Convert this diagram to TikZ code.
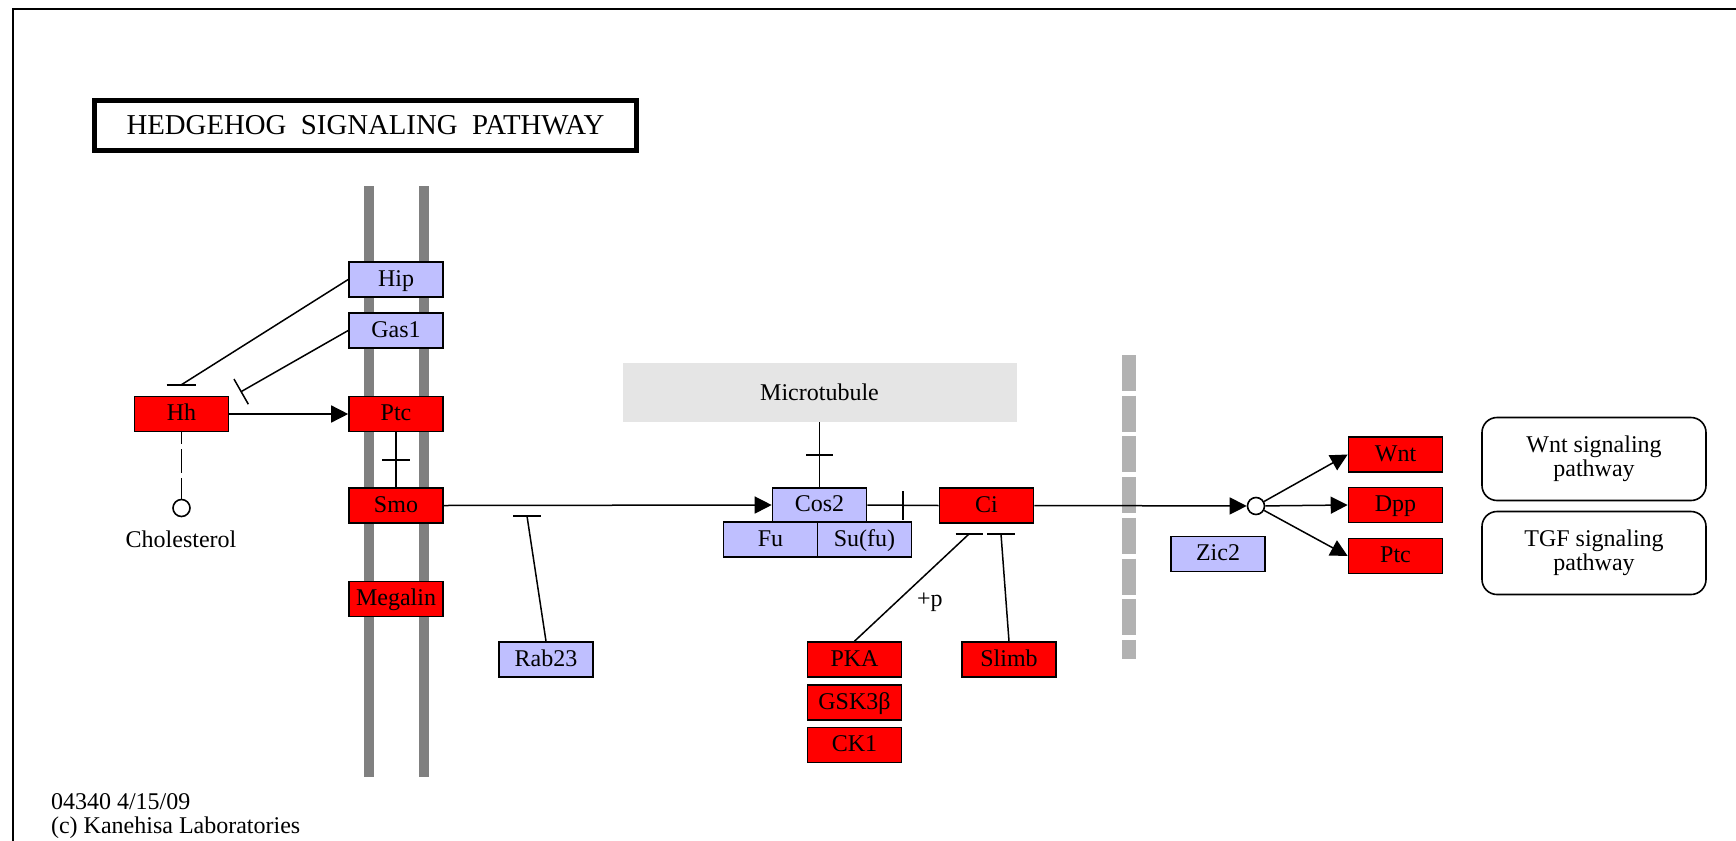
\documentclass[tikz,border=0pt]{standalone}
\usepackage{fontspec}
\setmainfont{Liberation Serif}
\usepackage{tikz}
\usepackage{xcolor}
\usetikzlibrary{arrows.meta}
\definecolor{keggred}{HTML}{FF0000}
\definecolor{keggblue}{HTML}{BFBFFF}
\tikzset{
  gene/.style={draw, line width=0.8pt, minimum width=47pt, minimum height=17.5pt, inner sep=0pt, text height=8.6pt, text depth=1.8pt},
  redgene/.style={gene, fill=keggred},
  bluegene/.style={gene, fill=keggblue},
  pathbox/.style={draw, line width=0.8pt, rounded corners=7.5pt, minimum width=112pt, minimum height=41.5pt, align=center, font=\fontsize{12}{10.7}\selectfont},
  cpd/.style={circle, draw, fill=white, line width=0.8pt, minimum size=8.5pt, inner sep=0pt},
  link/.style={line width=0.75pt},
  act/.style={link, -{Triangle[length=8.5pt,width=8.5pt]}}
}

\begin{document}
\begin{tikzpicture}[x=0.5pt, y=-0.5pt, font=\fontsize{12}{11}\selectfont]
        \useasboundingbox (0,0) rectangle (1736,841);
        \draw [black][line width=1pt] (12.5,841) -- (12.5,8.5) -- (1736,8.5);
        \node [draw, line width=2.2pt, minimum width=271pt, minimum height=25pt, font=\fontsize{14.4}{14}\selectfont] (title) at (365.5,125.5) {HEDGEHOG~~SIGNALING~~PATHWAY};

        \draw [gray][line width=5pt] (369,186) -- (369,777);
        \draw [gray][line width=5pt] (423.5,186) -- (423.5,777);
        \draw [gray!60][line width=6.75pt, dash pattern=on 18pt off 2.35pt] (1129,355) -- (1129,659);
        \node [fill=gray!20, minimum width=197pt, minimum height=29.5pt] (mt) at (819.5,392.5) {Microtubule};

        \node [bluegene] (Hip) at (396,279.5) {Hip};
        \node [bluegene] (Gas1) at (396,330.5) {Gas1};
        \node [redgene] (Hh) at (181.5,414) {Hh};
        \node [redgene] (Ptc) at (396,414) {Ptc};
        \node [redgene] (Smo) at (396,505.5) {Smo};
        \node [redgene] (Megalin) at (396,599) {Megalin};
        \node [cpd] (chol) at (181.5,508) {};
        \node (cholname) at (181,539) {Cholesterol};
        \node [bluegene] (Rab23) at (546,659.5) {Rab23};

        \node [bluegene, minimum height=17pt] (Cos2) at (819.5,505) {Cos2};
        \node [bluegene] (Fu) at (770.5,539.5) {Fu};
        \node [bluegene] (Sufu) at (864.5,539.5) {Su(fu)};
        \node [redgene] (Ci) at (986.5,505.5) {Ci};
        \node [redgene] (PKA) at (854.5,659.5) {PKA};
        \node [redgene] (GSK3b) at (854.5,702.5) {GSK3β};
        \node [redgene] (CK1) at (854.5,745) {CK1};
        \node [redgene] (Slimb) at (1009,659.5) {Slimb};

        \node [cpd] (jn) at (1256,506) {};
        \node [bluegene] (Zic2) at (1218,554) {Zic2};
        \node [redgene] (Wnt) at (1395.5,454.5) {Wnt};
        \node [redgene] (Dpp) at (1395.5,505) {Dpp};
        \node [redgene] (Ptc2) at (1395.5,556) {Ptc};
        \node [pathbox] (wntpath) at (1594,459) {Wnt signaling\\pathway};
        \node [pathbox] (tgfpath) at (1594,553) {TGF signaling\\pathway};

        \node [anchor=west, align=left, font=\fontsize{12}{11.7}\selectfont] (footer) at (44,816) {04340 4/15/09\\(c) Kanehisa Laboratories};

        \coordinate (hipbar) at (181,385);
        \coordinate (gasbar) at (240.5,392);
        \coordinate (rabbar) at (527,516);
        \coordinate (pkabar) at (969,534);
        \coordinate (slimbar) at (1001,534);

        \draw [link] (Hip.west) -- (hipbar);
        \draw [link] ([xshift=-7.25pt]hipbar) -- ([xshift=7.25pt]hipbar);
        \draw [link][-{Bar[width=14.5pt]}] (Gas1.west) -- (gasbar);
        \draw [act] (Hh.east) -- (Ptc.west);
        \draw [link][dash pattern=on 12pt off 2.5pt, dash phase=6pt] (Hh.south) -- (chol.north);
        \draw [link] (Ptc.south) -- coordinate (ptcsmo) (Smo.north);
        \draw [link] ([xshift=-7pt]ptcsmo) -- ([xshift=7pt]ptcsmo);
        \draw [act] (Smo.east) -- (Cos2.west);
        \draw [link] (Rab23.north) -- (rabbar);
        \draw [link] ([xshift=-7pt]rabbar) -- ([xshift=7pt]rabbar);
        \draw [link] (mt.south) -- coordinate (mtcos) (Cos2.north);
        \draw [link] ([xshift=-6.75pt]mtcos) -- ([xshift=6.75pt]mtcos);
        \draw [link] (Cos2.east) -- coordinate (cosci) (Ci.west);
        \draw [link] ([yshift=-7.25pt]cosci) -- ([yshift=7.25pt]cosci);
        \draw [link] (PKA.north) -- node [pos=0.36, right=7pt] (phos) {+p} (pkabar);
        \draw [link] ([xshift=-6.75pt]pkabar) -- ([xshift=6.75pt]pkabar);
        \draw [link] (Slimb.north) -- (slimbar);
        \draw [link] ([xshift=-7pt]slimbar) -- ([xshift=7pt]slimbar);
        \draw [act] (Ci.east) -- (jn);
        \draw [act] (jn) -- (Wnt.west);
        \draw [act] (jn) -- (Dpp.west);
        \draw [act] (jn) -- (Ptc2.west);
\end{tikzpicture}
\end{document}
